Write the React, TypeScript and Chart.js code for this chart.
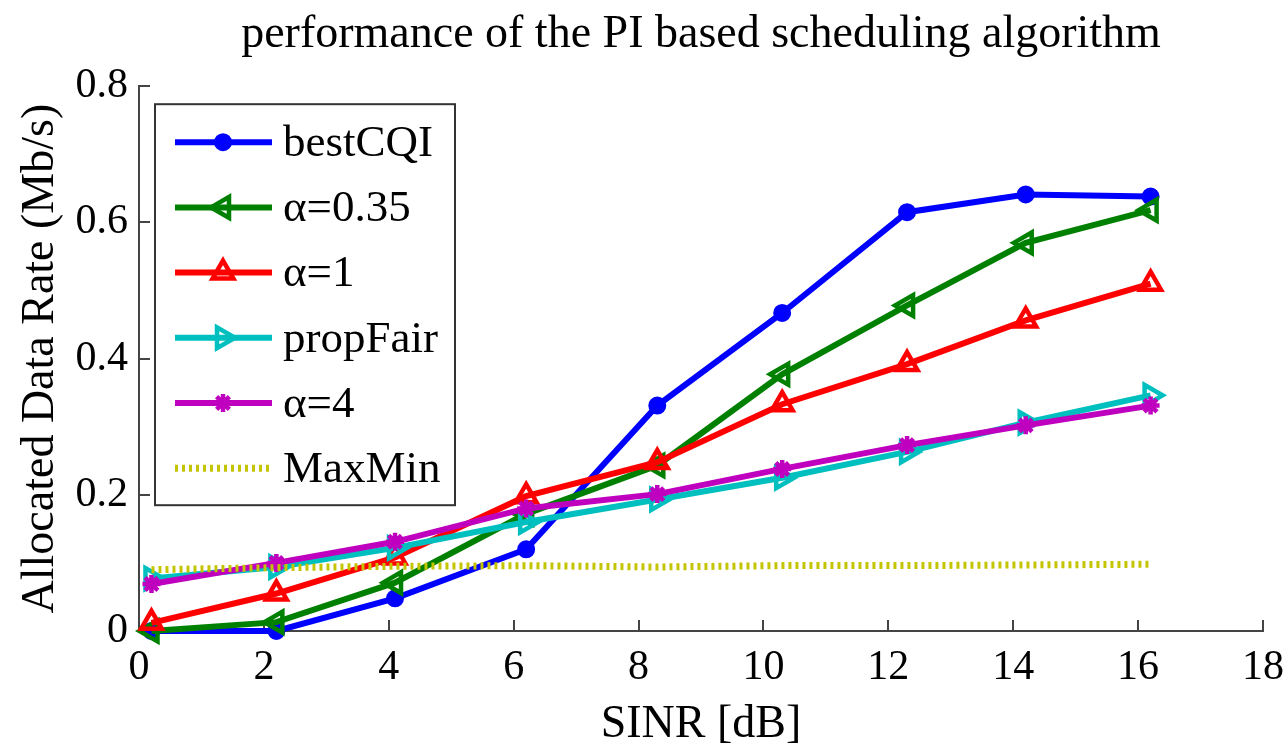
import React, { useEffect, useRef } from 'react';
import { Chart, registerables } from 'chart.js';
import { drawPoint } from 'chart.js/helpers';

Chart.register(...registerables);

// ---- data ----
const sinr = [0.2, 2.2, 4.1, 6.2, 8.3, 10.3, 12.3, 14.2, 16.2];
const bestCQI = [0.0, 0.0, 0.048, 0.12, 0.331, 0.467, 0.615, 0.641, 0.638];
const alpha035 = [0.0, 0.013, 0.071, 0.172, 0.243, 0.377, 0.478, 0.57, 0.618];
const alpha1 = [0.012, 0.055, 0.108, 0.198, 0.248, 0.333, 0.392, 0.456, 0.51];
const propFair = [0.077, 0.094, 0.122, 0.16, 0.193, 0.225, 0.263, 0.306, 0.346];
const alpha4 = [0.069, 0.1, 0.131, 0.18, 0.201, 0.238, 0.273, 0.302, 0.331];
const maxMin = [0.09, 0.093, 0.095, 0.096, 0.094, 0.096, 0.096, 0.097, 0.098];

const seriesLabels = ['bestCQI', 'α=0.35', 'α=1', 'propFair', 'α=4', 'MaxMin'];
const titleText = 'performance of the PI based scheduling algorithm';
const xTitle = 'SINR [dB]';
const yTitle = 'Allocated Data Rate (Mb/s)';

const FONT = '"Liberation Serif", "Times New Roman", serif';

const toPts = (ys: number[]) => ys.map((y, i) => ({ x: sinr[i], y }));

const inwardTicks = {
  id: 'inwardTicks',
  beforeDatasetsDraw(chart: any) {
    const { ctx, chartArea, scales } = chart;
    ctx.save();
    ctx.strokeStyle = '#444';
    ctx.lineWidth = 2;
    ctx.beginPath();
    scales.x.ticks.forEach((t: any) => {
      const px = Math.round(scales.x.getPixelForValue(t.value));
      ctx.moveTo(px, chartArea.bottom);
      ctx.lineTo(px, chartArea.bottom - 11);
    });
    scales.y.ticks.forEach((t: any) => {
      const py = Math.round(scales.y.getPixelForValue(t.value));
      ctx.moveTo(chartArea.left, py);
      ctx.lineTo(chartArea.left + 11, py);
    });
    ctx.stroke();
    ctx.restore();
  },
};

const boxLegend = {
  id: 'boxLegend',
  afterDraw(chart: any) {
    const { ctx, chartArea } = chart;
    const x0 = chartArea.left + 16;
    const y0 = chartArea.top + 18;
    const w = 300;
    const h = 401;
    ctx.save();
    ctx.fillStyle = '#fff';
    ctx.fillRect(x0, y0, w, h);
    ctx.strokeStyle = '#333';
    ctx.lineWidth = 2;
    ctx.strokeRect(x0, y0, w, h);
    chart.data.datasets.forEach((ds: any, i: number) => {
      const cy = y0 + 38 + i * 65.2;
      ctx.setLineDash(ds.borderDash || []);
      ctx.strokeStyle = ds.borderColor;
      ctx.lineWidth = ds.borderWidth;
      ctx.beginPath();
      ctx.moveTo(x0 + 20, cy);
      ctx.lineTo(x0 + 117, cy);
      ctx.stroke();
      ctx.setLineDash([]);
      if (ds.pointRadius > 0) {
        ctx.fillStyle = ds.pointBackgroundColor;
        ctx.strokeStyle = ds.pointBorderColor;
        ctx.lineWidth = ds.pointBorderWidth;
        drawPoint(
          ctx,
          {
            pointStyle: ds.pointStyle,
            radius: ds.pointRadius,
            rotation: ds.pointRotation || 0,
            borderWidth: ds.pointBorderWidth,
          } as any,
          x0 + 68,
          cy
        );
      }
      ctx.fillStyle = '#000';
      ctx.font = `45px ${FONT}`;
      ctx.textBaseline = 'middle';
      ctx.textAlign = 'left';
      ctx.fillText(ds.label, x0 + 128, cy + 2);
    });
    ctx.restore();
  },
};

function makeLine(label: string, ys: number[], color: string, style: any, order: number) {
  return {
    label,
    data: toPts(ys),
    borderColor: color,
    borderWidth: 6,
    backgroundColor: color,
    pointBackgroundColor: style.filled ? color : 'rgba(0,0,0,0)',
    pointBorderColor: color,
    pointBorderWidth: style.bw,
    pointStyle: style.ps,
    pointRotation: style.rot || 0,
    pointRadius: style.r,
    fill: false,
    tension: 0,
    clip: false,
    order,
  };
}

export default function App() {
  const ref = useRef<HTMLCanvasElement | null>(null);

  useEffect(() => {
    if (!ref.current) return;
    const chart = new Chart(ref.current, {
      type: 'line',
      data: {
        datasets: [
          makeLine(seriesLabels[0], bestCQI, 'rgb(0,0,255)', { ps: 'circle', r: 8, bw: 2, filled: true }, 6),
          makeLine(seriesLabels[1], alpha035, 'rgb(0,128,0)', { ps: 'triangle', r: 12, bw: 4.5, rot: -90 }, 5),
          makeLine(seriesLabels[2], alpha1, 'rgb(255,0,0)', { ps: 'triangle', r: 12, bw: 4.5, rot: 0 }, 4),
          makeLine(seriesLabels[3], propFair, 'rgb(0,191,191)', { ps: 'triangle', r: 12, bw: 4.5, rot: 90 }, 3),
          makeLine(seriesLabels[4], alpha4, 'rgb(191,0,191)', { ps: 'star', r: 9, bw: 4.5 }, 2),
          {
            label: seriesLabels[5],
            data: toPts(maxMin),
            borderColor: 'rgb(196,196,0)',
            backgroundColor: 'rgb(196,196,0)',
            borderWidth: 7,
            borderDash: [3, 4],
            pointRadius: 0,
            pointBorderWidth: 0,
            fill: false,
            tension: 0,
            clip: false,
            order: 1,
          },
        ] as any,
      },
      options: {
        animation: false,
        responsive: true,
        maintainAspectRatio: false,
        layout: { padding: 0 },
        plugins: {
          legend: { display: false },
          tooltip: { enabled: false },
          title: {
            display: true,
            text: titleText,
            fullSize: false,
            color: '#000',
            font: { family: FONT, size: 46, weight: 'normal', lineHeight: 1.2 },
            padding: { top: 7, bottom: 24 },
          },
        },
        scales: {
          x: {
            type: 'linear',
            min: 0,
            max: 18,
            afterFit: (s: any) => {
              s.height = 124;
              s.paddingRight = 20;
            },
            ticks: {
              stepSize: 2,
              color: '#000',
              padding: 12,
              font: { family: FONT, size: 42 },
            },
            grid: { display: true, drawOnChartArea: false, drawTicks: false },
            border: { display: true, color: '#444', width: 2 },
            title: {
              display: true,
              text: xTitle,
              color: '#000',
              font: { family: FONT, size: 46, lineHeight: 1.2 },
              padding: { top: 0, bottom: 2 },
            },
          },
          y: {
            type: 'linear',
            min: 0,
            max: 0.8,
            afterFit: (s: any) => {
              s.width = 139;
            },
            ticks: {
              stepSize: 0.2,
              color: '#000',
              padding: 11,
              font: { family: FONT, size: 42 },
            },
            grid: { display: true, drawOnChartArea: false, drawTicks: false },
            border: { display: true, color: '#444', width: 2 },
            title: {
              display: true,
              text: yTitle,
              color: '#000',
              font: { family: FONT, size: 46, lineHeight: 1.2 },
              padding: { top: 13, bottom: 0 },
            },
          },
        },
      },
      plugins: [inwardTicks, boxLegend],
    });
    return () => chart.destroy();
  }, []);

  return (
    <div style={{ position: 'absolute', left: 0, top: 0, width: 1283, height: 755, background: '#fff' }}>
      <canvas ref={ref} />
    </div>
  );
}
